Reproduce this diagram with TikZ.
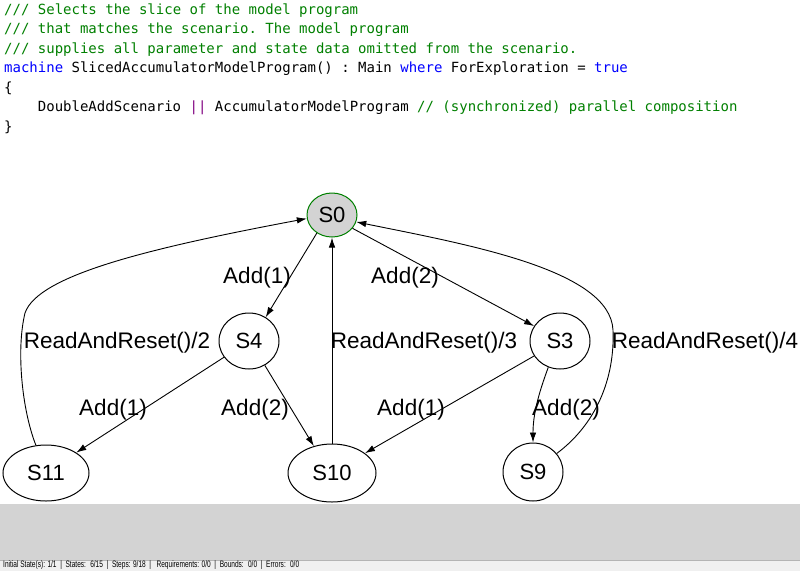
\documentclass[tikz,border=0pt]{standalone}
\usepackage{fontspec}
\usepackage{graphicx}
\setmainfont{Liberation Sans}
\setmonofont{DejaVu Sans Mono}
\usetikzlibrary{shapes.geometric,arrows.meta}
\definecolor{cmt}{RGB}{0,128,0}
\definecolor{kw}{RGB}{0,0,255}
\definecolor{opc}{RGB}{128,0,128}
\definecolor{s0fill}{RGB}{211,211,211}
\definecolor{s0line}{RGB}{0,128,0}
\definecolor{band}{RGB}{211,211,211}
\definecolor{statusbg}{RGB}{240,240,240}
\definecolor{statusline}{RGB}{180,180,180}
\begin{document}
\begin{tikzpicture}[x=1pt,y=-1pt,
  codeline/.style={anchor=base west, inner sep=0pt, font=\fontsize{14}{16}\ttfamily},
  state/.style={ellipse, draw, line width=1pt, inner sep=0pt, font=\fontsize{22}{26}\selectfont},
  lbl/.style={inner sep=0pt, font=\fontsize{22.5}{27}\selectfont},
  edge/.style={draw, line width=0.9pt, -{Latex[length=10pt,width=6.5pt]}}
]
\useasboundingbox (0,0) rectangle (800,571);
\fill[white] (0,0) rectangle (800,571);
% bottom panels
\fill[band] (0,504) rectangle (800,560);
\fill[statusbg] (0,560) rectangle (800,571);
\draw[statusline, line width=0.8pt] (0,560) -- (800,560);
\node[anchor=west, inner sep=0pt] (status) at (3,565.5) {\resizebox{296pt}{6.8pt}{Initial State(s): 1/1 \ | \ States: \ 6/15 \ | \ Steps: 9/18 \ | \ \ Requirements: 0/0 \ | \ Bounds: \ 0/0 \ | \ Errors: \ 0/0}};

% code
\node[codeline] (c1) at (4,14.3) {\color{cmt}/// Selects the slice of the model program};
\node[codeline] (c2) at (4,33.75) {\color{cmt}/// that matches the scenario. The model program};
\node[codeline] (c3) at (4,53.2) {\color{cmt}/// supplies all parameter and state data omitted from the scenario.};
\node[codeline] (c4) at (4,72.65) {{\color{kw}machine} SlicedAccumulatorModelProgram() : Main {\color{kw}where} ForExploration = {\color{kw}true}};
\node[codeline] (c5) at (4,92.1) {\{};
\node[codeline] (c6) at (37.7,111.55) {DoubleAddScenario {\color{opc}||} AccumulatorModelProgram {\color{cmt}// (synchronized) parallel composition}};
\node[codeline] (c7) at (4,131) {\}};

% states
\node[state, fill=s0fill, draw=s0line, minimum width=50pt, minimum height=44pt] (S0) at (332,215) {S0};
\node[state, minimum width=60pt, minimum height=56pt] (S4) at (249,341) {S4};
\node[state, minimum width=60pt, minimum height=56pt] (S3) at (560,341) {S3};
\node[state, minimum width=86pt, minimum height=56pt] (S11) at (46,473) {S11};
\node[state, minimum width=88pt, minimum height=58pt] (S10) at (332,473) {S10};
\node[state, minimum width=60pt, minimum height=58pt] (S9) at (533,472) {S9};

% edges
\draw[edge] (S0.230) -- (S4.55);
\draw[edge] (S0.-33) -- (S3.150);
\draw[edge] (S4.213) -- (S11.34);
\draw[edge] (S4.-57) -- (S10.124);
\draw[edge] (S3.210) -- (S10.31);
\draw[edge] (S3.246) .. controls (538,395) and (533,415) .. (S9.north);
\draw[edge] (S10.north) -- (S0.south);
\draw[edge] (S11.110) .. controls (22,410) and (16,350) .. (25,313) .. controls (38,275) and (150,248) .. (S0.188);
\draw[edge] (S9.38) .. controls (595,425) and (615,380) .. (613,330) .. controls (610,270) and (470,245) .. (S0.-16);

% labels
\node[lbl] (l1) at (257,278) {Add(1)};
\node[lbl] (l2) at (405,278) {Add(2)};
\node[lbl] (l3) at (117,343) {ReadAndReset()/2};
\node[lbl] (l4) at (424,343) {ReadAndReset()/3};
\node[lbl] (l5) at (705,343) {ReadAndReset()/4};
\node[lbl] (l6) at (113,410) {Add(1)};
\node[lbl] (l7) at (255,410) {Add(2)};
\node[lbl] (l8) at (411,410) {Add(1)};
\node[lbl] (l9) at (566,410) {Add(2)};
\end{tikzpicture}
\end{document}
